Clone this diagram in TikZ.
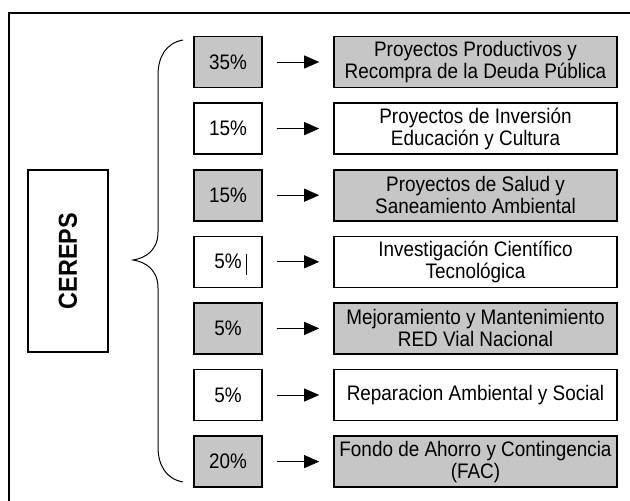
\documentclass[tikz,border=0pt]{standalone}
\usepackage{fontspec}
\setmainfont{Liberation Sans}[FakeStretch=0.9]
\usetikzlibrary{arrows.meta,calc}
\definecolor{boxgray}{RGB}{198,198,198}
\begin{document}
\begin{tikzpicture}[x=1pt,y=-1pt,
  pct/.style={draw,line width=1.6pt,minimum width=68pt,minimum height=51pt,
    inner sep=0pt,font=\fontsize{21}{22}\selectfont},
  dest/.style={draw,line width=1.6pt,minimum width=283pt,minimum height=51pt,
    inner sep=0pt,align=center,font=\fontsize{21}{22}\selectfont},
  shaded/.style={fill=boxgray},
  flow/.style={line width=0.9pt,-{Triangle[length=15pt,width=13pt]},
    shorten <=14pt,shorten >=14pt}]
\useasboundingbox (0,0) rectangle (630,501);
\clip (0,0) rectangle (630,501);
% outer frame (runs past the right and bottom edges)
\draw[line width=2.6pt] (9,13) rectangle (680,560);

% source box
\node[draw,line width=1.3pt,rotate=90,minimum width=182pt,minimum height=80pt,
  inner sep=0pt,font=\fontsize{26}{28}\selectfont\bfseries] (src) at (68,261) {CEREPS};

% brace
\draw[line width=1pt] (183,40) .. controls (166,43) and (158,57) .. (158,75)
  -- (158,232) .. controls (158,250) and (146,258) .. (133,260)
  .. controls (146,262) and (158,270) .. (158,288)
  -- (158,447) .. controls (158,465) and (166,479) .. (183,482);

% rows
\foreach \i/\p/\t/\s in {
  1/35\%/{Proyectos Productivos y\\Recompra de la Deuda Pública}/shaded,
  2/15\%/{Proyectos de Inversión\\Educación y Cultura}/,
  3/15\%/{Proyectos de Salud y\\Saneamiento Ambiental}/shaded,
  4/5\%/{Investigación Científico\\Tecnológica}/,
  5/5\%/{Mejoramiento y Mantenimiento\\RED Vial Nacional}/shaded,
  6/5\%/{Reparacion Ambiental y Social}/,
  7/20\%/{Fondo de Ahorro y Contingencia\\(FAC)}/shaded}{
  \pgfmathsetmacro{\yy}{62+66.6*(\i-1)}
  \node[pct,\s] (p\i) at (228,\yy) {\p};
  \node[dest,\s] (d\i) at (475.5,\yy) {\t};
  \draw[flow] (p\i) -- (d\i);
}
% text cursor after the 5% of the fourth row
\draw[line width=0.9pt] ($(p4.center)+(18,-8)$) -- ($(p4.center)+(18,13)$);
\end{tikzpicture}
\end{document}
